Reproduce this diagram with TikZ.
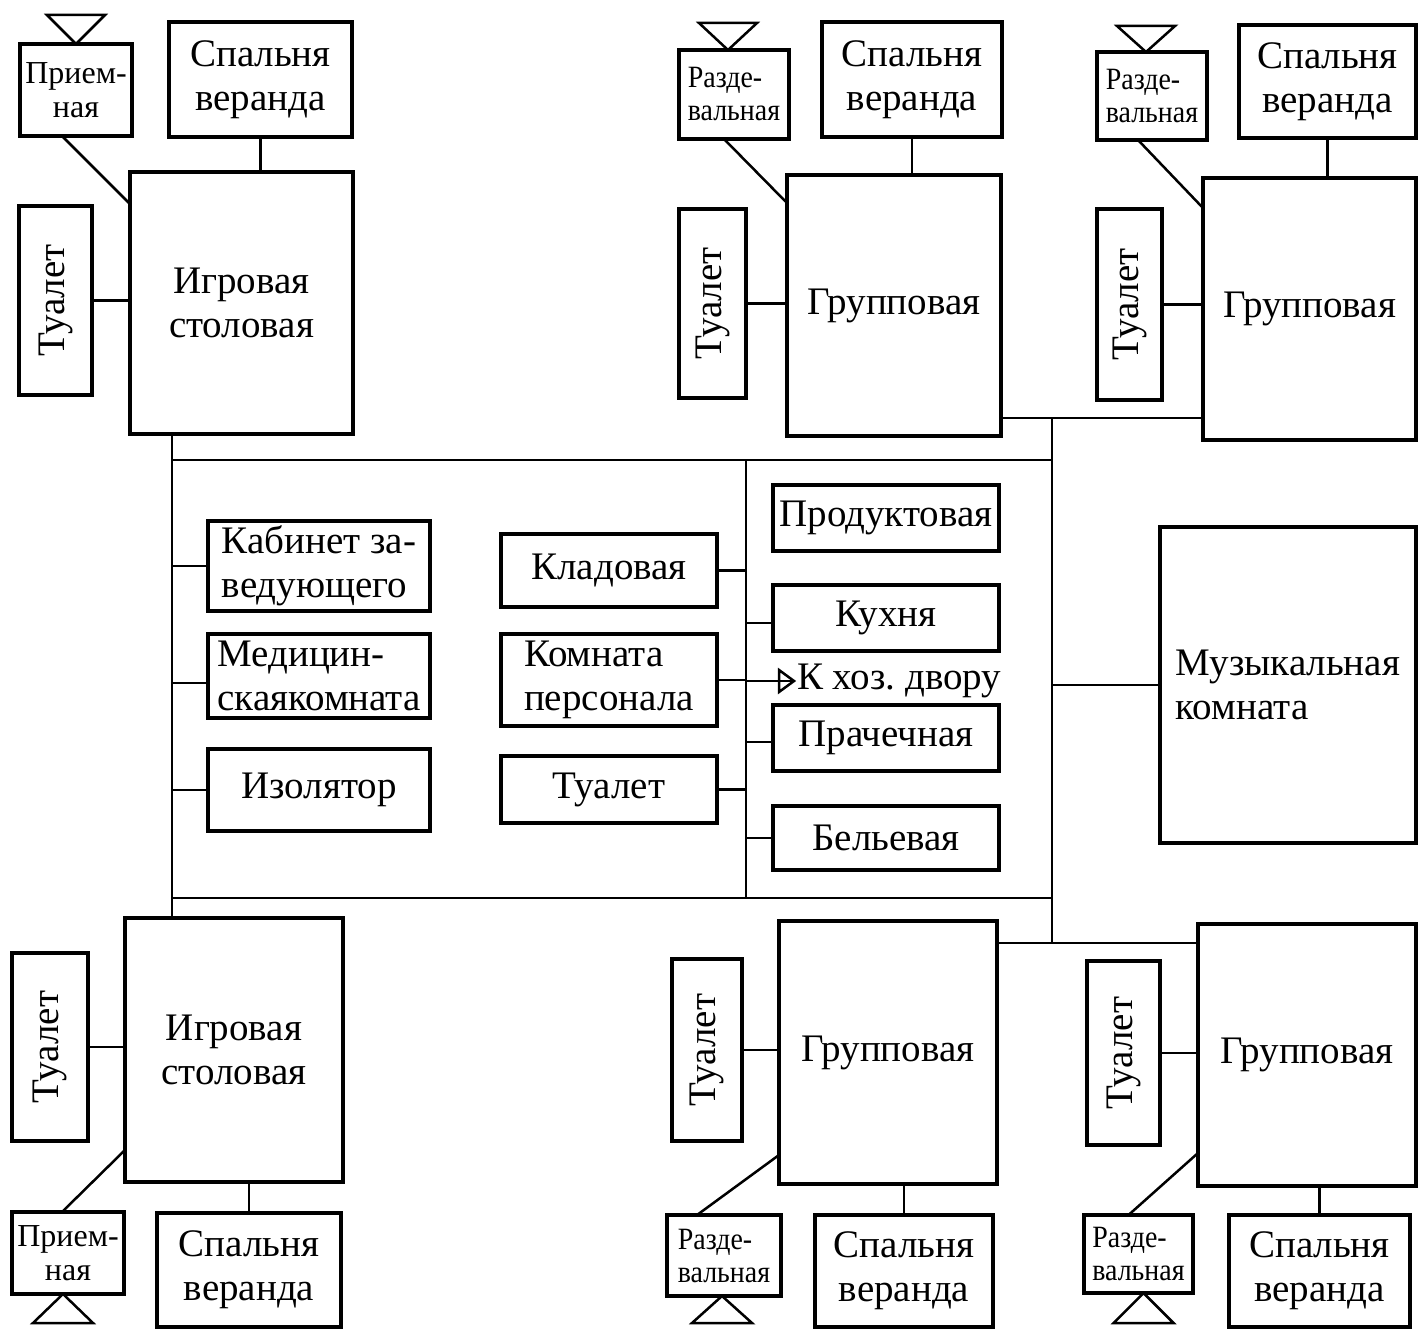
\documentclass[tikz,border=0pt]{standalone}
\usepackage{fontspec}
\usepackage{graphicx}
\setmainfont{Liberation Serif}
\newfontfamily\narrowfont{Liberation Serif}[FakeStretch=0.9]
\usetikzlibrary{arrows.meta,calc}
\tikzset{
  room/.style={draw, line width=3.5pt, inner sep=0pt, outer sep=0pt, align=center,
    font=\fontsize{39}{44}\selectfont},
  smallroom/.style={room, font=\fontsize{32}{34}\selectfont},
  narrowroom/.style={room, align=left, font=\narrowfont\fontsize{31}{33}\selectfont},
  link/.style={line width=2.5pt},
  entry/.style={line width=2.5pt, line join=miter},
  lbl/.style={inner sep=0pt, font=\fontsize{39}{44}\selectfont}
}
% \rbox{style}{name}{x1}{y1}{x2}{y2}{text}
\newcommand{\rbox}[7]{%
  \pgfmathsetmacro{\rw}{#5-#3}\pgfmathsetmacro{\rh}{#6-#4}%
  \pgfmathsetmacro{\rx}{(#3+#5)/2}\pgfmathsetmacro{\ry}{(#4+#6)/2}%
  \node[#1, minimum width=\rw pt, minimum height=\rh pt] (#2) at (\rx,\ry) {#7};}
\newcommand{\vtext}[1]{\rotatebox{90}{#1}}
\begin{document}
\begin{tikzpicture}[x=1pt,y=-1pt]
\useasboundingbox (0,0) rectangle (1420,1329);
\fill[white] (0,0) rectangle (1420,1329);

% ---------- top-left group ----------
\rbox{smallroom}{pr1}{20}{44}{132}{136}{Прием-\\ная}
\rbox{room}{sv1}{169}{22}{352}{137}{Спальня\\веранда}
\rbox{room}{ig1}{130}{172}{353}{434}{Игровая\\столовая}
\rbox{room}{tu1}{19}{206}{92}{395}{\vtext{Туалет}}
% ---------- top-middle group ----------
\rbox{narrowroom}{rz1}{679}{50}{789}{139}{Разде-\\вальная}
\rbox{room}{sv2}{822}{22}{1002}{137}{Спальня\\веранда}
\rbox{room}{gr1}{787}{175}{1001}{436}{Групповая}
\rbox{room}{tu2}{679}{209}{746}{398}{\vtext{Туалет}}
% ---------- top-right group ----------
\rbox{narrowroom}{rz2}{1097}{52}{1207}{140}{Разде-\\вальная}
\rbox{room}{sv3}{1239}{25}{1416}{138}{Спальня\\веранда}
\rbox{room}{gr2}{1203}{178}{1416}{440}{Групповая}
\rbox{room}{tu3}{1097}{209}{1162}{400}{\vtext{Туалет}}
% ---------- central block ----------
\rbox{room, align=left}{kab}{208}{521}{430}{611}{Кабинет за-\\ведующего}
\rbox{room, align=left}{med}{208}{634}{430}{718}{Медицин-\\скаякомната}
\rbox{room}{iso}{208}{749}{430}{831}{Изолятор}
\rbox{room}{klad}{501}{534}{717}{607}{Кладовая}
\rbox{room, align=left}{kom}{501}{634}{717}{726}{Комната\\персонала}
\rbox{room}{tu4}{501}{756}{717}{823}{Туалет}
\rbox{room}{prod}{773}{485}{999}{551}{Продуктовая}
\rbox{room}{kuh}{773}{585}{999}{651}{Кухня}
\rbox{room}{pra}{773}{705}{999}{771}{Прачечная}
\rbox{room}{bel}{773}{806}{999}{870}{Бельевая}
\rbox{room, align=left}{mu}{1160}{527}{1416}{843}{Музыкальная\\комната}
\node[lbl, anchor=west] (hoz) at (797,681) {К хоз.\ двору};
\coordinate (tip) at ([xshift=-3pt]hoz.west);
% ---------- bottom-left group ----------
\rbox{room}{ig2}{125}{918}{343}{1182}{Игровая\\столовая}
\rbox{room}{tu5}{12}{953}{88}{1141}{\vtext{Туалет}}
\rbox{smallroom}{pr2}{12}{1212}{124}{1294}{Прием-\\ная}
\rbox{room}{sv4}{157}{1213}{341}{1327}{Спальня\\веранда}
% ---------- bottom-middle group ----------
\rbox{room}{gr3}{779}{921}{997}{1184}{Групповая}
\rbox{room}{tu6}{672}{959}{742}{1141}{\vtext{Туалет}}
\rbox{narrowroom}{rz3}{667}{1215}{781}{1296}{Разде-\\вальная}
\rbox{room}{sv5}{815}{1215}{993}{1327}{Спальня\\веранда}
% ---------- bottom-right group ----------
\rbox{room}{gr4}{1198}{924}{1416}{1186}{Групповая}
\rbox{room}{tu7}{1087}{961}{1160}{1145}{\vtext{Туалет}}
\rbox{narrowroom}{rz4}{1084}{1215}{1193}{1293}{Разде-\\вальная}
\rbox{room}{sv6}{1229}{1215}{1410}{1327}{Спальня\\веранда}

% ---------- frame coordinates ----------
\coordinate (fTL) at (172,460);
\coordinate (fTR) at (1052,460);
\coordinate (fBL) at (172,898);
\coordinate (fBR) at (1052,898);
\coordinate (dv)  at (746,460);
\coordinate (dvB) at (746,898);
\coordinate (jT)  at (1052,418);
\coordinate (jB)  at (1052,943);

% ---------- connectors: groups ----------
\draw[link] (sv1.south) -- (sv1.south |- ig1.north);
\draw[link] (tu1.east) -- (tu1.east -| ig1.west);
\draw[link] ([xshift=-14pt]pr1.south) -- ([yshift=-32pt]ig1.north west);
\draw[link] (sv2.south) -- (sv2.south |- gr1.north);
\draw[link] (tu2.east) -- (tu2.east -| gr1.west);
\draw[link] ([xshift=-10pt]rz1.south) -- ([yshift=-28pt]gr1.north west);
\draw[link] (sv3.south) -- (sv3.south |- gr2.north);
\draw[link] (tu3.east) -- (tu3.east -| gr2.west);
\draw[link] ([xshift=-14pt]rz2.south) -- ([yshift=-30pt]gr2.north west);
\draw[link] (sv4.north) -- (sv4.north |- ig2.south);
\draw[link] (tu5.east) -- (tu5.east -| ig2.west);
\draw[link] ([xshift=-6pt]pr2.north) -- ([yshift=32pt]ig2.south west);
\draw[link] (sv5.north) -- (sv5.north |- gr3.south);
\draw[link] (tu6.east) -- (tu6.east -| gr3.west);
\draw[link] ([xshift=-27pt]rz3.north) -- ([yshift=29pt]gr3.south west);
\draw[link] (sv6.north) -- (sv6.north |- gr4.south);
\draw[link] (tu7.east) -- (tu7.east -| gr4.west);
\draw[link] ([xshift=-10pt]rz4.north) -- ([yshift=33pt]gr4.south west);

% ---------- entrance triangles ----------
\draw[entry] (pr1.north) -- ++(-29,-29) -- ++(58,0) -- cycle;
\draw[entry] ([xshift=-6pt]rz1.north) -- ++(-29,-27) -- ++(58,0) -- cycle;
\draw[entry] ([xshift=-6pt]rz2.north) -- ++(-29,-26) -- ++(58,0) -- cycle;
\draw[entry] ([xshift=-5pt]pr2.south) -- ++(-30,29) -- ++(60,0) -- cycle;
\draw[entry] ([xshift=-2pt]rz3.south) -- ++(-30,27) -- ++(60,0) -- cycle;
\draw[entry] ([xshift=5pt]rz4.south) -- ++(-30,30) -- ++(60,0) -- cycle;

% ---------- central corridor frame ----------
\draw[link] (fTL |- ig1.south) -- (fBL |- ig2.north);
\draw[link] (fTL) -- (fTR);
\draw[link] (fBL) -- (fBR);
\draw[link] (dv) -- (dvB);
\draw[link] (jT) -- (jB);
\draw[link] (jT -| gr1.east) -- (jT -| gr2.west);
\draw[link] (jB -| gr3.east) -- (jB -| gr4.west);
\draw[link] (jT |- mu.west) -- (mu.west);

% ---------- central branches ----------
\draw[link] (fTL |- kab.west) -- (kab.west);
\draw[link] ([yshift=-7pt]fTL |- med.west) -- ([yshift=-7pt]med.west);
\draw[link] (fTL |- iso.west) -- (iso.west);
\draw[link] (klad.east) -- (klad.east -| dv);
\draw[link] (kom.east) -- (kom.east -| dv);
\draw[link] (tu4.east) -- (tu4.east -| dv);
\draw[link] ([yshift=-5pt]dv |- kuh.west) -- ([yshift=-5pt]kuh.west);
\draw[link] ([yshift=-4pt]dv |- pra.west) -- ([yshift=-4pt]pra.west);
\draw[link] (dv |- bel.west) -- (bel.west);
% arrow to the service yard (open triangular head)
\draw[link] (dv |- tip) -- (tip);
\draw[entry] (tip) -- ++(-15,-11) -- ++(0,22) -- cycle;
\end{tikzpicture}
\end{document}
